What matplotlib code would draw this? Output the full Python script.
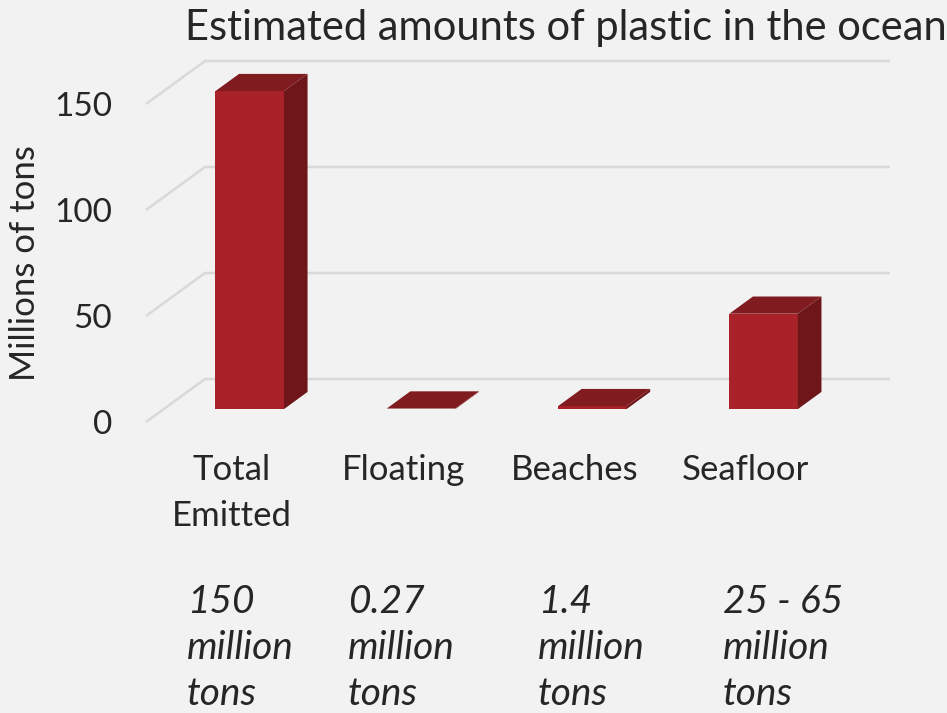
import numpy as np
import matplotlib.pyplot as plt
from matplotlib.patches import Polygon

# data
categories = ['Total\nEmitted', 'Floating', 'Beaches', 'Seafloor']
values = [150, 0.27, 1.4, 45]
notes = ['150\nmillion\ntons', '0.27\nmillion\ntons', '1.4\nmillion\ntons', '25 - 65\nmillion\ntons']
yticks = [0, 50, 100, 150]

plt.rcParams['font.family'] = ['Lato', 'DejaVu Sans']

W, H = 947, 713
fig = plt.figure(figsize=(W / 100, H / 100), dpi=100)
fig.patch.set_facecolor('#f2f2f2')
ax = fig.add_axes([0, 0, 1, 1])
ax.set_facecolor('#f2f2f2')
ax.axis('off')

# pixel scale: one category = 171.3 px, one unit = 2.12 px
cat_px = 171.3
val_px = 2.12
x0_px = 232.0   # category 0 centre at front plane
y0_px = 422.0   # value 0 at front plane
ax.set_xlim(-x0_px / cat_px, (W - x0_px) / cat_px)
ax.set_ylim((y0_px - H) / val_px, y0_px / val_px)


def px(x, y):
    return (x - x0_px) / cat_px, (y0_px - y) / val_px


# depth vector of the floor (front -> back)
ddx = 59 / cat_px
ddy = 43 / val_px

grid_left = (146 - x0_px) / cat_px
grid_right = (890 - x0_px) / cat_px
for v in yticks:
    ax.plot([grid_left, grid_left + ddx, grid_right], [v, v + ddy, v + ddy],
            color='#d9d9d9', lw=1.8, zorder=1, solid_capstyle='butt')
    ax.text((112 - x0_px) / cat_px, v - 3 / val_px, str(v), ha='right', va='center',
            fontsize=24, color='#262626')

# bars with fake 3d faces
bw = 0.40
d0, d1 = 0.3, 0.7
front_col = '#a9222a'
top_col = '#801b1f'
side_col = '#6e1619'
for i, v in enumerate(values):
    xl = i - bw / 2 + d0 * ddx
    xr = xl + bw
    yb = d0 * ddy
    ox, oy = (d1 - d0) * ddx, (d1 - d0) * ddy
    ax.bar(xl, v, width=bw, bottom=yb, align='edge', color=front_col,
           edgecolor='none', zorder=3)
    top = [(xl, yb + v), (xr, yb + v), (xr + ox, yb + v + oy), (xl + ox, yb + v + oy)]
    side = [(xr, yb), (xr + ox, yb + oy), (xr + ox, yb + v + oy), (xr, yb + v)]
    ax.add_patch(Polygon(side, closed=True, color=side_col, lw=0, zorder=3))
    ax.add_patch(Polygon(top, closed=True, color=top_col, lw=0, zorder=4))

# category labels
for i, c in enumerate(categories):
    ax.text(i, px(0, 454)[1], c, ha='center', va='top',
            fontsize=25, color='#262626', linespacing=1.55)

# italic notes below
note_x = [187, 348, 538, 723]
for nx, n in zip(note_x, notes):
    x, y = px(nx, 648)
    ax.text(x, y, n, ha='left', va='center',
            fontsize=28, style='italic', color='#262626', linespacing=1.36)

x, y = px(185, 28)
ax.text(x, y, 'Estimated amounts of plastic in the ocean', ha='left', va='center',
        fontsize=30, color='#262626')
x, y = px(25, 263)
ax.text(x, y, 'Millions of tons', ha='center', va='center', rotation=90,
        fontsize=25, color='#262626')

fig.savefig('out.png', dpi=100, facecolor=fig.get_facecolor())
